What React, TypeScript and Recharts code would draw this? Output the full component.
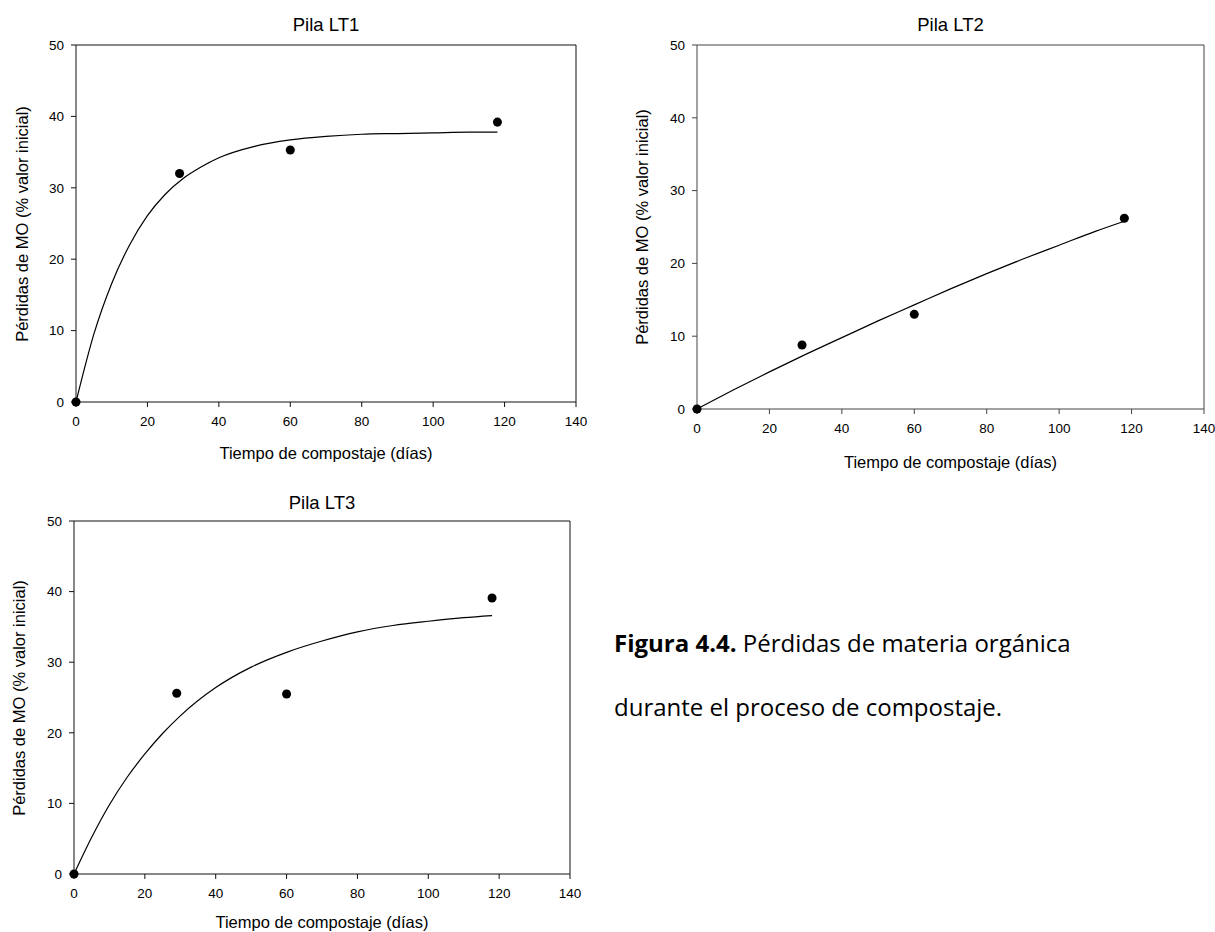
import React from 'react';
import { ComposedChart, Line, Scatter, XAxis, YAxis, ReferenceLine } from 'recharts';

// ejes comunes
const xTicks = [0, 20, 40, 60, 80, 100, 120, 140];
const yTicks = [0, 10, 20, 30, 40, 50];

// días de muestreo
const diasMuestreo = [0, 29, 60, 118];

// pérdidas medidas (% valor inicial)
const perdidasLT1 = [0, 32.0, 35.3, 39.2];
const perdidasLT2 = [0, 8.8, 13.0, 26.2];
const perdidasLT3 = [0, 25.6, 25.5, 39.1];

// curvas de ajuste
const diasAjusteLT1 = [0, 5, 10, 15, 20, 25, 30, 35, 40, 50, 60, 70, 80, 90, 100, 110, 118];
const ajusteLT1 = [0, 9.5, 16.6, 22.0, 26.1, 29.1, 31.3, 32.9, 34.2, 35.8, 36.7, 37.2, 37.5, 37.6, 37.7, 37.8, 37.8];

const diasAjusteLT2 = [0, 10, 20, 30, 40, 50, 60, 70, 80, 90, 100, 110, 118];
const ajusteLT2 = [0, 2.6, 5.1, 7.5, 9.8, 12.1, 14.3, 16.5, 18.6, 20.6, 22.5, 24.4, 25.8];

const diasAjusteLT3 = [0, 5, 10, 15, 20, 25, 30, 40, 50, 60, 70, 80, 90, 100, 110, 118];
const ajusteLT3 = [0, 5.2, 9.8, 13.7, 17.0, 19.9, 22.4, 26.4, 29.3, 31.4, 33.0, 34.3, 35.2, 35.8, 36.3, 36.6];

const xLabel = 'Tiempo de compostaje (días)';
const yLabel = 'Pérdidas de MO (% valor inicial)';

const FONT = '"Liberation Sans", Arial, sans-serif';

const toPoints = (xs: number[], ys: number[]) => xs.map((x, i) => ({ x, y: ys[i] }));

interface PanelProps {
  title: string;
  puntos: { x: number; y: number }[];
  ajuste: { x: number; y: number }[];
  plot: { x: number; y: number; w: number; h: number };
  titleY: number;
  xLabelY: number;
  yLabelX: number;
  axisColor?: string;
}

const centered = (left: number, top: number, size: number, extra: React.CSSProperties = {}): React.CSSProperties => ({
  position: 'absolute',
  left,
  top,
  transform: 'translate(-50%, -50%)',
  fontFamily: FONT,
  fontSize: size,
  lineHeight: 1,
  whiteSpace: 'nowrap',
  color: '#000',
  ...extra,
});

const Panel: React.FC<PanelProps> = ({ title, puntos, ajuste, plot, titleY, xLabelY, yLabelX, axisColor = '#111' }) => {
  const yAxisW = 60;
  const xAxisH = 40;
  const mt = 6;
  const mr = 24; // deja sitio al "140"
  const cx = plot.x + plot.w / 2;
  const cy = plot.y + plot.h / 2;

  return (
    <>
      <div style={{ position: 'absolute', left: plot.x - yAxisW, top: plot.y - mt }}>
        <ComposedChart
          width={yAxisW + plot.w + mr}
          height={mt + plot.h + xAxisH}
          margin={{ top: mt, right: mr, bottom: 0, left: 0 }}
          style={{ fontFamily: FONT }}
        >
          <XAxis
            type="number"
            dataKey="x"
            domain={[0, 140]}
            ticks={xTicks}
            interval={0}
            height={xAxisH}
            tickSize={5}
            tickMargin={9}
            stroke={axisColor}
            tick={{ fontSize: 13.5, fill: '#000' }}
          />
          <YAxis
            type="number"
            dataKey="y"
            domain={[0, 50]}
            ticks={yTicks}
            interval={0}
            width={yAxisW}
            tickSize={5}
            tickMargin={7}
            stroke={axisColor}
            tick={{ fontSize: 13.5, fill: '#000' }}
          />
          <ReferenceLine x={140} stroke={axisColor} />
          <ReferenceLine y={50} stroke={axisColor} />
          <Line
            data={ajuste}
            dataKey="y"
            type="monotone"
            stroke="#000"
            strokeWidth={1.2}
            dot={false}
            activeDot={false}
            isAnimationActive={false}
          />
          <Scatter data={puntos} dataKey="y" fill="#000" isAnimationActive={false} />
        </ComposedChart>
      </div>
      <div style={centered(cx, titleY, 18.5)}>{title}</div>
      <div style={centered(cx, xLabelY, 16.5)}>{xLabel}</div>
      <div style={centered(yLabelX, cy, 16.5, { transform: 'translate(-50%, -50%) rotate(-90deg)' })}>{yLabel}</div>
    </>
  );
};

export default function App() {
  return (
    <div style={{ position: 'absolute', left: 0, top: 0, width: 1215, height: 932, background: '#fff', overflow: 'hidden' }}>
      <Panel
        title="Pila LT1"
        puntos={toPoints(diasMuestreo, perdidasLT1)}
        ajuste={toPoints(diasAjusteLT1, ajusteLT1)}
        plot={{ x: 76, y: 45, w: 500, h: 357 }}
        titleY={25}
        xLabelY={453}
        yLabelX={22}
      />
      <Panel
        title="Pila LT2"
        puntos={toPoints(diasMuestreo, perdidasLT2)}
        ajuste={toPoints(diasAjusteLT2, ajusteLT2)}
        plot={{ x: 697, y: 45, w: 507, h: 364 }}
        titleY={25}
        xLabelY={462}
        yLabelX={642}
        axisColor="#444"
      />
      <Panel
        title="Pila LT3"
        puntos={toPoints(diasMuestreo, perdidasLT3)}
        ajuste={toPoints(diasAjusteLT3, ajusteLT3)}
        plot={{ x: 74, y: 521, w: 496, h: 353 }}
        titleY={503}
        xLabelY={922}
        yLabelX={19}
      />
      <div
        style={{
          position: 'absolute',
          left: 614,
          top: 611,
          fontFamily: '"Open Sans", "Noto Sans", sans-serif',
          fontSize: 24,
          lineHeight: '64px',
          color: '#000',
          whiteSpace: 'nowrap',
        }}
      >
        <div>
          <b>Figura 4.4.</b> Pérdidas de materia orgánica
        </div>
        <div>durante el proceso de compostaje.</div>
      </div>
    </div>
  );
}
